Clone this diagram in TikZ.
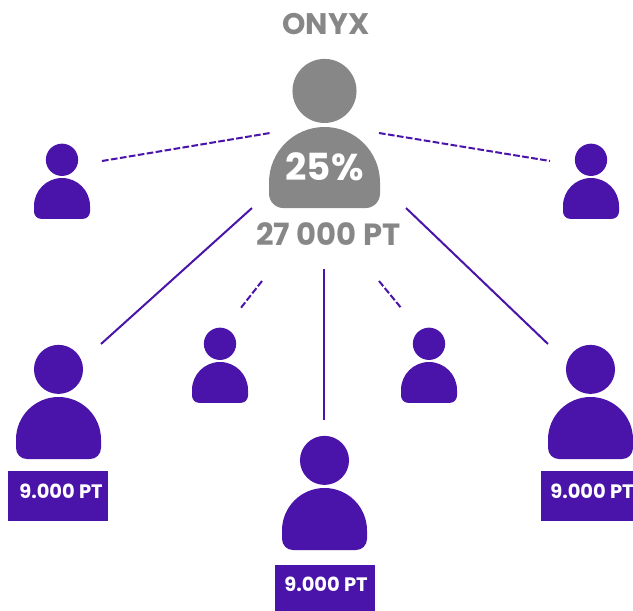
\documentclass[tikz,border=0pt]{standalone}
\usepackage{fontspec}
\setmainfont{Poppins}
\definecolor{vio}{HTML}{4A14AA}
\definecolor{gry}{HTML}{878787}
\tikzset{
  x=0.75pt,y=-0.75pt,
  person/.pic={
    \fill[pic actions] (0,-0.65) circle[radius=0.577];
    \fill[pic actions] (-1,1) arc[start angle=180,end angle=360,radius=1]
      -- (1,1.2) arc[start angle=0,end angle=90,radius=0.26]
      -- (-0.74,1.46) arc[start angle=90,end angle=180,radius=0.26] -- cycle;
  },
  link/.style={draw=vio,line width=1.5pt},
  dlink/.style={draw=vio,line width=1.5pt,dash pattern=on 5pt off 1.8pt},
  tag/.style={fill=vio,inner sep=0pt,anchor=north west},
  ptlabel/.style={text=white,font=\fontsize{14.6}{16}\selectfont\bfseries,inner sep=0pt},
  graylabel/.style={text=gry,inner sep=0pt},
}
\newcommand{\personat}[4]{% x, y of body top, half width px, colour
  \begin{scope}[shift={(#1,#2)},x=#3*0.75pt,y=-#3*0.75pt]
    \pic[fill=#4] {person};
  \end{scope}
}
\begin{document}
\begin{tikzpicture}
\useasboundingbox (0,0) rectangle (633,611);
\fill[white] (0,0) rectangle (633,611);
% coordinates
\coordinate (a1) at (102,161); \coordinate (a2) at (270,133);
\coordinate (b1) at (379,133); \coordinate (b2) at (550,161);
\coordinate (c1) at (252,208); \coordinate (c2) at (101,344);
\coordinate (d1) at (406,208); \coordinate (d2) at (548,344);
\coordinate (e1) at (324,269); \coordinate (e2) at (324,420);
\coordinate (f1) at (262,281); \coordinate (f2) at (240,309);
\coordinate (g1) at (379,281); \coordinate (g2) at (402,309);
\draw[dlink] (a1) -- (a2);
\draw[dlink] (b1) -- (b2);
\draw[dlink] (f1) -- (f2);
\draw[dlink] (g1) -- (g2);
\draw[link] (c1) -- (c2);
\draw[link] (d1) -- (d2);
\draw[link] (e1) -- (e2);
% persons
\personat{324.5}{127}{55.5}{gry}
\personat{62}{178}{28}{vio}
\personat{591}{178}{28}{vio}
\personat{220}{362}{28}{vio}
\personat{429}{362}{28}{vio}
\personat{58.5}{397}{42.5}{vio}
\personat{324.5}{488}{42.5}{vio}
\personat{590.5}{397}{42.5}{vio}
% tags
\node[tag,minimum width=75pt,minimum height=37.5pt] (t1) at (8,471) {};
\node[tag,minimum width=75pt,minimum height=34.5pt] (t2) at (275,565) {};
\node[tag,minimum width=69pt,minimum height=37.5pt] (t3) at (541,471) {};
\node[ptlabel] (l1) at (61,491) {9.000 PT};
\node[ptlabel] (l2) at (326,584) {9.000 PT};
\node[ptlabel] (l3) at (592,491) {9.000 PT};
% texts
\node[graylabel,font=\fontsize{22.3}{24}\selectfont\bfseries] (name) at (326,24) {ONYX};
\node[text=white,font=\fontsize{28}{30}\selectfont\bfseries,inner sep=0pt] (pct) at (324.5,167) {25\%};
\node[graylabel,font=\fontsize{23}{24}\selectfont\bfseries] (pts) at (328.5,234) {27 000 PT};
\end{tikzpicture}
\end{document}
